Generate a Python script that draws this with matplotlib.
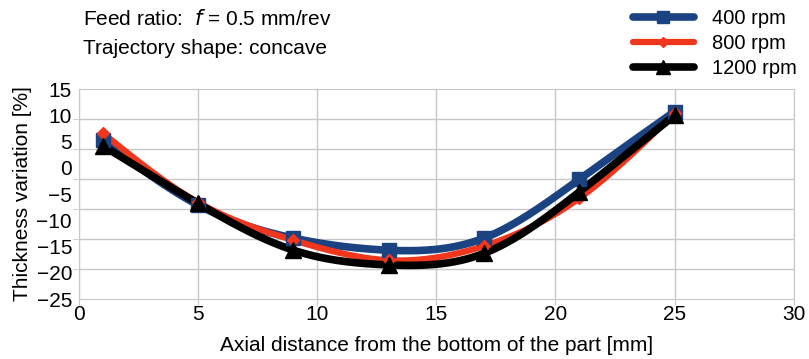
import numpy as np
import matplotlib
matplotlib.use("Agg")
import matplotlib.pyplot as plt
from matplotlib.lines import Line2D

plt.rcParams["font.family"] = ["Liberation Sans", "DejaVu Sans"]

# data
distance = [1, 5, 9, 13, 17, 21, 25]
rpm400 = [5.2, -7.1, -13.4, -15.7, -13.4, -2.2, 10.7]
rpm800 = [6.6, -6.6, -13.8, -17.6, -14.9, -5.8, 10.4]
rpm1200 = [4.2, -6.8, -15.7, -18.5, -16.3, -4.6, 10.0]
series_names = ["400 rpm", "800 rpm", "1200 rpm"]

xticks = [0, 5, 10, 15, 20, 25, 30]
yticks = [15, 10, 5, 0, -5, -10, -15, -20, -25]


def spline(x, y, n=300):
	# natural cubic spline, like the smoothed lines of the original chart
	x = np.asarray(x, float)
	y = np.asarray(y, float)
	k = len(x)
	h = np.diff(x)
	A = np.zeros((k, k))
	b = np.zeros(k)
	A[0, 0] = 1
	A[-1, -1] = 1
	for i in range(1, k - 1):
		A[i, i - 1] = h[i - 1]
		A[i, i] = 2 * (h[i - 1] + h[i])
		A[i, i + 1] = h[i]
		b[i] = 6 * ((y[i + 1] - y[i]) / h[i] - (y[i] - y[i - 1]) / h[i - 1])
	M = np.linalg.solve(A, b)
	xs = np.linspace(x[0], x[-1], n)
	idx = np.clip(np.searchsorted(x, xs) - 1, 0, k - 2)
	x0 = x[idx]
	x1 = x[idx + 1]
	hh = x1 - x0
	ys = (M[idx] * (x1 - xs) ** 3 / (6 * hh) + M[idx + 1] * (xs - x0) ** 3 / (6 * hh)
		+ (y[idx] / hh - M[idx] * hh / 6) * (x1 - xs)
		+ (y[idx + 1] / hh - M[idx + 1] * hh / 6) * (xs - x0))
	return xs, ys


fig = plt.figure(figsize=(8.09, 3.59), dpi=100)
ax = fig.add_axes([0.0977, 0.167, 0.8833, 0.585])

styles = [
	(rpm400, "#1b4382", "s", 10.5, 5.5),
	(rpm800, "#f0361c", "D", 6, 4.5),
	(rpm1200, "#000000", "^", 11.5, 5.5),
]
handles = []
for (vals, col, mk, ms, lw), name in zip(styles, series_names):
	xs, ys = spline(distance, vals)
	ax.plot(xs, ys, color=col, lw=lw, solid_capstyle="round", zorder=3)
	ax.plot(distance, vals, ls="none", marker=mk, ms=ms, color=col, zorder=4)
	handles.append(Line2D([], [], color=col, lw=lw, marker=mk, ms=ms * 0.85, solid_capstyle="round"))

ax.set_xlim(0, 30)
ax.set_ylim(-25, 15)
ax.set_xticks(xticks)
ax.set_yticks(yticks)
# the reference's horizontal gridlines do not sit on the labels: 7 even bands
ax.set_yticks(np.linspace(-25, 15, 8), minor=True)
ax.grid(True, which="major", axis="x", color="#c8c8c8", lw=1)
ax.grid(True, which="minor", axis="y", color="#c8c8c8", lw=1)
ax.tick_params(axis="y", which="major", length=0, labelsize=15, pad=5)
ax.tick_params(axis="y", which="minor", length=4, color="#c8c8c8")
ax.tick_params(axis="x", which="major", length=4, color="#c8c8c8", labelsize=15, pad=0)
for s in ax.spines.values():
	s.set_color("#c8c8c8")
ax.set_axisbelow(True)

ax.set_xlabel("Axial distance from the bottom of the part [mm]", fontsize=15, labelpad=9)
ax.set_ylabel("Thickness variation [%]", fontsize=15, labelpad=3)

fig.text(0.103, 0.948, "Feed ratio:  $\\it{f}$ = 0.5 mm/rev", fontsize=15, va="center")
fig.text(0.103, 0.865, "Trajectory shape: concave", fontsize=15, va="center")

fig.legend(handles, series_names, loc="upper right", bbox_to_anchor=(1.007, 1.025),
	frameon=False, fontsize=14.5, handlelength=3.0, labelspacing=0.3, handletextpad=0.9)

fig.savefig("out.png", dpi=100)
